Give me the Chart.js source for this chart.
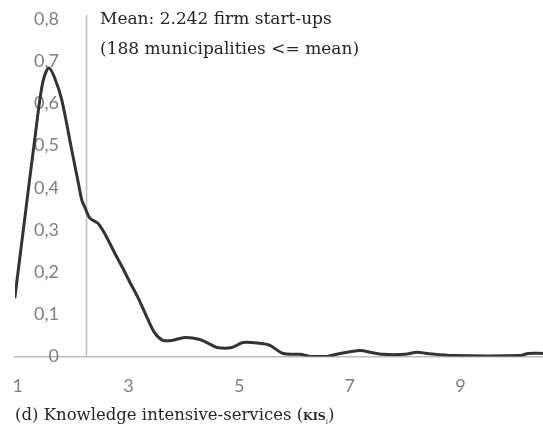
<!DOCTYPE html>
<html>
<head>
<meta charset="utf-8">
<script src="https://cdn.jsdelivr.net/npm/chart.js@4"></script>
<style>
  html, body { margin: 0; padding: 0; background: #fff; }
  #wrap { position: relative; width: 543px; height: 439px; }
  #chart { position: absolute; left: 0; top: 0; }
  .note { position: absolute; font-family: "DejaVu Serif", serif; font-size: 17px; color: #262626; white-space: nowrap; }
  .caption { font-size: 16.5px; }
  .kis { font-variant: small-caps; font-weight: bold; font-size: 15.5px; }
  .kis sub { font-size: 9px; font-weight: normal; }
</style>
</head>
<body>
<div id="wrap">
  <canvas id="chart" width="543" height="439"></canvas>
  <div class="note" style="left:100px; top:8px">Mean: 2.242 firm start-ups</div>
  <div class="note" style="left:100px; top:38px">(188 municipalities &lt;= mean)</div>
  <div class="note caption" style="left:15px; top:405px">(d) Knowledge intensive-services (<span class="kis">kis<sub>i</sub></span>)</div>
</div>
<script>
// density of firm start-ups, knowledge intensive services
const startups = [0.946, 1.036, 1.127, 1.217, 1.307, 1.398, 1.470, 1.561, 1.669, 1.796,
  1.976, 2.085, 2.157, 2.212, 2.302, 2.447, 2.555, 2.664, 2.772, 2.899,
  3.025, 3.170, 3.333, 3.477, 3.622, 3.785, 4.020, 4.291, 4.472, 4.599,
  4.870, 5.069, 5.376, 5.557, 5.792, 6.099, 6.280, 6.588, 6.823, 7.184,
  7.365, 7.600, 7.998, 8.215, 8.396, 8.866, 10.078, 10.222, 10.494];
const density = [0.138, 0.233, 0.328, 0.423, 0.515, 0.608, 0.660, 0.684, 0.660, 0.608,
  0.489, 0.418, 0.371, 0.354, 0.328, 0.316, 0.295, 0.268, 0.240, 0.209,
  0.176, 0.140, 0.093, 0.055, 0.038, 0.038, 0.045, 0.040, 0.029, 0.021,
  0.021, 0.033, 0.031, 0.026, 0.007, 0.005, 0.000, 0.000, 0.007, 0.014,
  0.010, 0.005, 0.005, 0.010, 0.007, 0.002, 0.002, 0.007, 0.007];
const meanValue = 2.242;
const meanLineY = [0, 0.81];
const xTicks = [1, 3, 5, 7, 9];
const yTicks = [0, 0.1, 0.2, 0.3, 0.4, 0.5, 0.6, 0.7, 0.8];

const gray = '#7f7f7f';
const tickFont = { family: 'Lato', size: 18 };

new Chart(document.getElementById('chart'), {
  type: 'line',
  data: {
    datasets: [
      {
        data: startups.map((x, i) => ({ x, y: density[i] })),
        borderColor: '#333333',
        borderWidth: 3,
        pointRadius: 0,
        tension: 0.3,
        order: 1
      },
      {
        data: meanLineY.map(y => ({ x: meanValue, y })),
        borderColor: '#bcbcbc',
        borderWidth: 1.5,
        pointRadius: 0,
        clip: false,
        order: 2
      }
    ]
  },
  options: {
    responsive: false,
    animation: false,
    layout: { padding: { left: 15, right: 0, top: 15, bottom: 23 } },
    plugins: { legend: { display: false }, tooltip: { enabled: false } },
    scales: {
      x: {
        type: 'linear',
        min: 0.95,
        max: 10.49,
        afterBuildTicks: s => { s.ticks = xTicks.map(v => ({ value: v })); },
        afterFit: s => { s.paddingLeft = 0; s.paddingRight = 0; },
        grid: { display: false, drawTicks: false },
        border: { color: '#bcbcbc', width: 1.5 },
        ticks: { color: gray, font: tickFont, padding: 19, maxRotation: 0 }
      },
      y: {
        min: 0,
        max: 0.81,
        afterBuildTicks: s => { s.ticks = yTicks.map(v => ({ value: v })); },
        afterFit: s => { s.width = 0; s.paddingTop = 0; s.paddingBottom = 0; },
        grid: { display: false, drawTicks: false },
        border: { display: false },
        ticks: {
          color: gray,
          font: tickFont,
          mirror: true,
          crossAlign: 'far',
          padding: 19,
          callback: v => v === 0 ? '0' : v.toFixed(1).replace('.', ',')
        }
      }
    }
  }
});
</script>
</body>
</html>
